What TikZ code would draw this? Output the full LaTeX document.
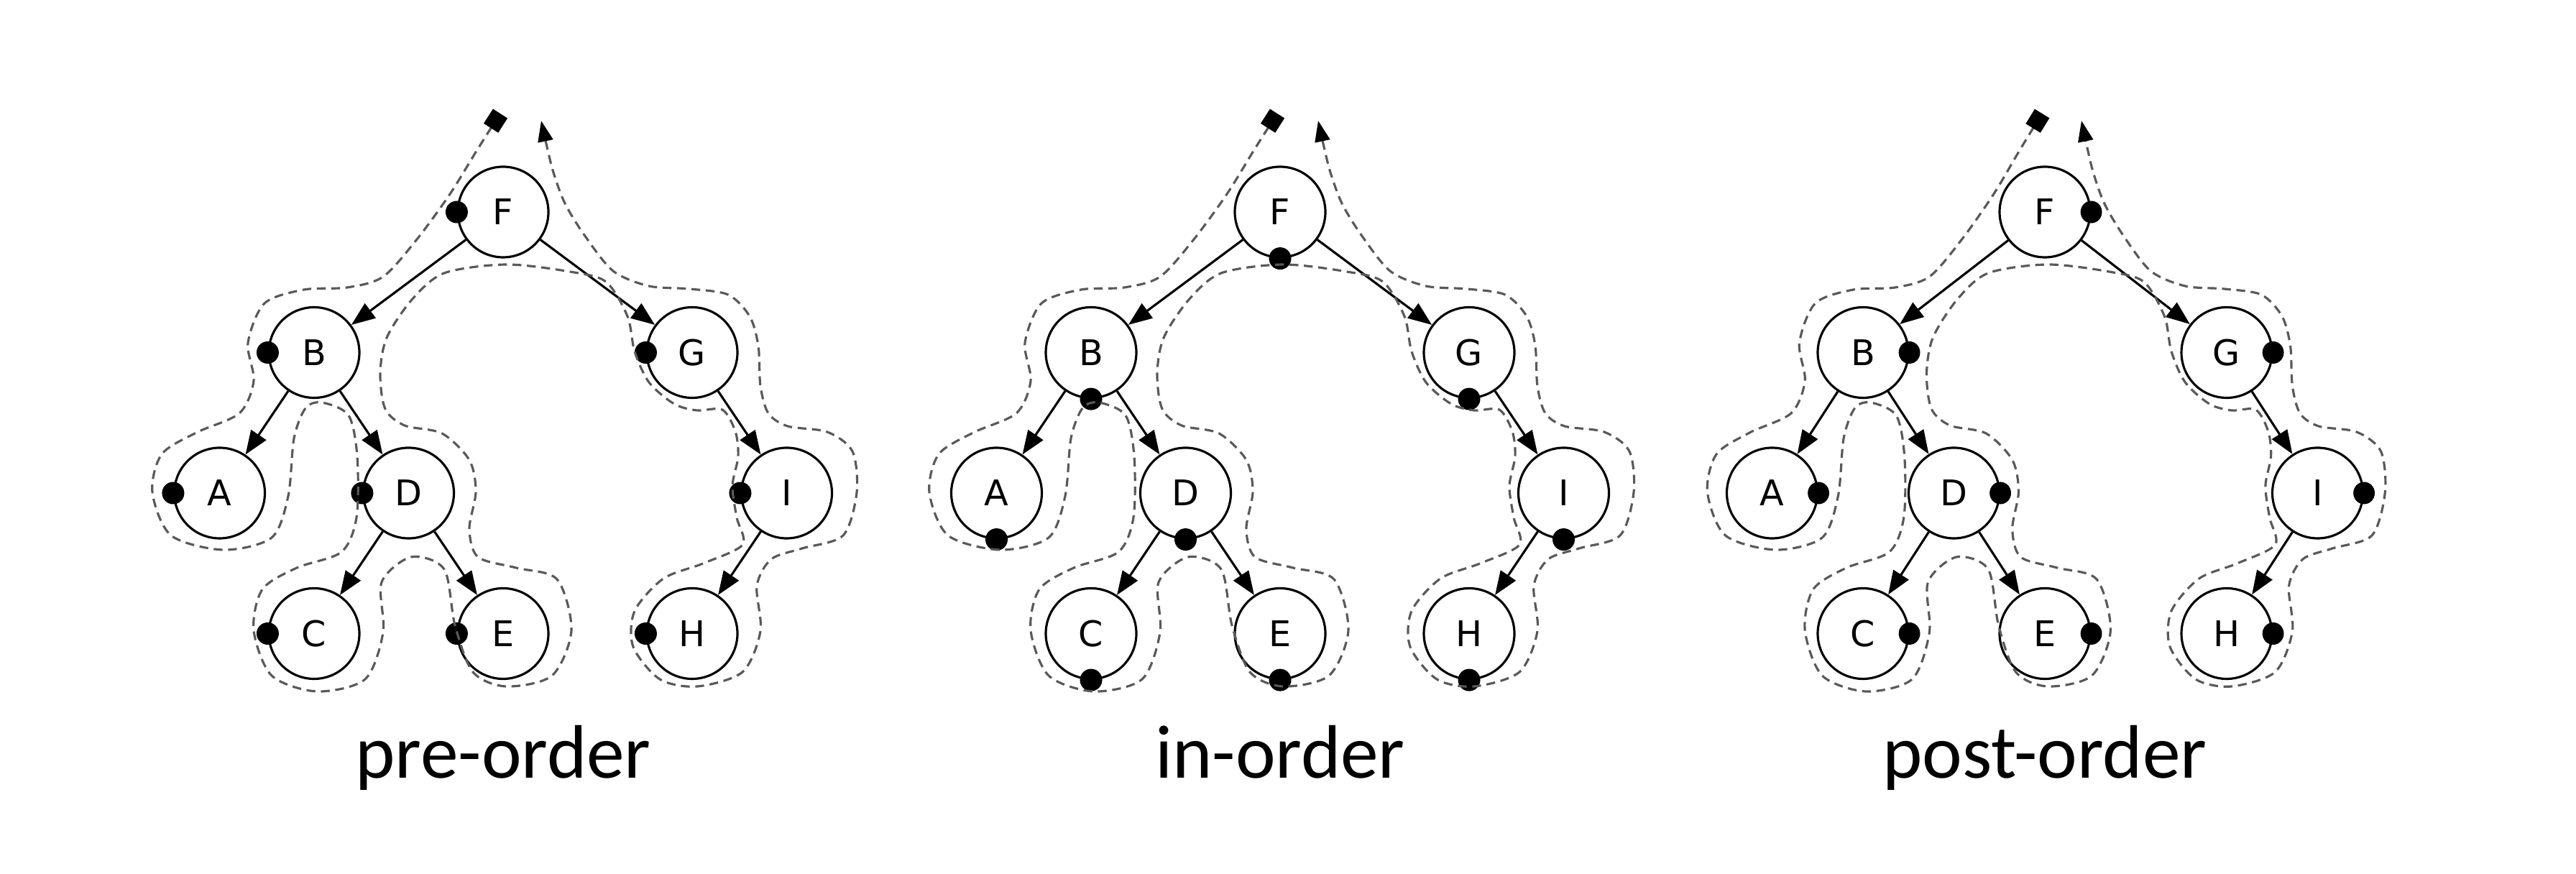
\documentclass[tikz,border=0pt]{standalone}
\usepackage{fontspec}
\usetikzlibrary{arrows.meta}
\newfontfamily\keyfont{DejaVu Sans}
\newfontfamily\capfont{Carlito}

\begin{document}
\begin{tikzpicture}[
	vertex/.style={circle, draw, line width=0.9pt, minimum size=1.26cm, inner sep=0pt, font=\keyfont\fontsize{14}{16}\selectfont},
	edge/.style={line width=0.9pt, -{Triangle[length=0.33cm, width=0.25cm]}},
	tour/.style={draw=black!65, line width=0.9pt, dash pattern=on 3.5pt off 2.2pt,
		{Square[length=0.24cm, width=0.24cm, color=black]}-{Triangle[length=0.29cm, width=0.21cm, color=black]}},
	caption/.style={font=\capfont\fontsize{30}{36}\selectfont, anchor=base}]
	\useasboundingbox (0,0) rectangle (35.84,-12.16);
	
	\def\u{1.315}
	\def\v{1.955}
	\foreach \t/\x/\s/\d/\name in {p/7.00/1/west/pre-order, i/17.81/1/south/in-order, o/28.45/0.962/east/post-order} {
		\begin{scope}[shift={(\x,-2.95)}, xscale=\s]
			\node[vertex] (\t-F) at (0,0) {F};
			\node[vertex] (\t-B) at (-2*\u,-\v) {B};
			\node[vertex] (\t-G) at (2*\u,-\v) {G};
			\node[vertex] (\t-A) at (-3*\u,-2*\v) {A};
			\node[vertex] (\t-D) at (-\u,-2*\v) {D};
			\node[vertex] (\t-I) at (3*\u,-2*\v) {I};
			\node[vertex] (\t-C) at (-2*\u,-3*\v) {C};
			\node[vertex] (\t-E) at (0,-3*\v) {E};
			\node[vertex] (\t-H) at (2*\u,-3*\v) {H};
			\foreach \a/\b in {F/B, F/G, B/A, B/D, D/C, D/E, G/I, I/H}
				\draw[edge] (\t-\a) -- (\t-\b);
			\foreach \n in {A,...,I}
				\fill (\t-\n.\d) circle (0.155);
			% walk round the tree
			\draw[tour] plot[smooth] coordinates {
				(-0.04,1.37) (-0.37,0.85) (-0.74,0.25) (-1.20,-0.38) (-1.67,-0.90) (-2.17,-1.05)
				(-2.77,-1.08) (-3.32,-1.27) (-3.55,-1.82) (-3.47,-2.35) (-3.67,-2.80) (-4.27,-3.07)
				(-4.75,-3.37) (-4.88,-3.90) (-4.62,-4.50) (-3.89,-4.70) (-3.22,-4.53) (-2.99,-3.95)
				(-2.91,-3.15) (-2.75,-2.73) (-2.52,-2.65) (-2.15,-2.83) (-2.03,-3.40) (-2.04,-4.25)
				(-2.25,-4.73) (-2.87,-4.95) (-3.35,-5.25) (-3.47,-5.82) (-3.22,-6.45) (-2.59,-6.67)
				(-1.92,-6.50) (-1.67,-5.85) (-1.69,-5.15) (-1.28,-4.80) (-0.82,-4.97) (-0.67,-5.75)
				(-0.42,-6.40) (0.04,-6.60) (0.68,-6.45) (0.95,-5.82) (0.75,-5.11) (0.18,-4.95)
				(-0.35,-4.80) (-0.47,-4.41) (-0.38,-3.89) (-0.47,-3.45) (-0.85,-3.08) (-1.37,-2.97)
				(-1.64,-2.74) (-1.71,-2.25) (-1.62,-1.75) (-1.27,-1.22) (-0.82,-0.85) (0.04,-0.73)
				(0.93,-0.83) (1.43,-0.97) (1.73,-1.45) (1.83,-1.94) (2.03,-2.37) (2.38,-2.67)
				(2.70,-2.76) (3.05,-2.75) (3.23,-3.05) (3.27,-3.40) (3.19,-3.81) (3.25,-4.25)
				(3.33,-4.63) (2.78,-4.89) (2.23,-5.10) (1.83,-5.55) (1.81,-6.05) (2.18,-6.50)
				(2.70,-6.60) (3.33,-6.40) (3.58,-5.83) (3.53,-5.20) (3.73,-4.83) (4.16,-4.68)
				(4.73,-4.50) (4.92,-3.90) (4.86,-3.33) (4.51,-3.06) (3.96,-2.98) (3.69,-2.80)
				(3.58,-2.42) (3.55,-1.86) (3.43,-1.45) (3.13,-1.15) (2.60,-1.07) (2.03,-1.03)
				(1.53,-0.82) (1.13,-0.32) (0.86,0.12) (0.70,0.55) (0.60,0.95) (0.53,1.27)};
		\end{scope}
		\node[caption] (\t-cap) at (\x,-10.83) {\name};
	}
\end{tikzpicture}
\end{document}
